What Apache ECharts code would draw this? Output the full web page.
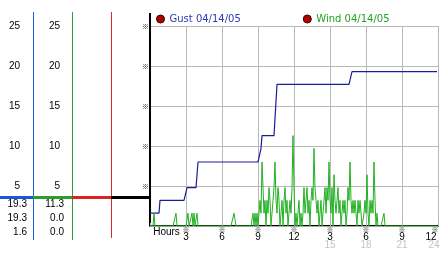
<!DOCTYPE html>
<html><head><meta charset="utf-8">
<script src="https://cdn.jsdelivr.net/npm/echarts@6/dist/echarts.min.js"></script>
<style>html,body{margin:0;padding:0;background:#fff}#c{width:442px;height:253px}</style>
</head><body><div id="c"></div>
<script>
// ---- data ----
const seriesNames = ['Gust 04/14/05', 'Wind 04/14/05'];
const sampleMinutes = 5; // one sample every 5 minutes, 00:00 .. 23:55
const gustKmh = [
  1.6,1.6,1.6,1.6,1.6,1.6,1.6,1.6,1.6,1.6,3.2,3.2,3.2,3.2,3.2,3.2,3.2,3.2,3.2,3.2,3.2,3.2,3.2,3.2,
  3.2,3.2,3.2,3.2,3.2,3.2,3.2,3.2,3.2,3.2,3.2,3.2,3.2,4.8,4.8,4.8,4.8,4.8,4.8,4.8,4.8,4.8,4.8,4.8,
  8.0,8.0,8.0,8.0,8.0,8.0,8.0,8.0,8.0,8.0,8.0,8.0,8.0,8.0,8.0,8.0,8.0,8.0,8.0,8.0,8.0,8.0,8.0,8.0,
  8.0,8.0,8.0,8.0,8.0,8.0,8.0,8.0,8.0,8.0,8.0,8.0,8.0,8.0,8.0,8.0,8.0,8.0,8.0,8.0,8.0,8.0,8.0,8.0,
  8.0,8.0,8.0,8.0,8.0,8.0,8.0,8.0,8.0,8.0,8.0,8.0,8.0,8.0,8.0,9.7,11.3,11.3,11.3,11.3,11.3,11.3,11.3,11.3,
  11.3,11.3,11.3,11.3,11.3,11.3,11.3,17.7,17.7,17.7,17.7,17.7,17.7,17.7,17.7,17.7,17.7,17.7,17.7,17.7,17.7,17.7,17.7,17.7,
  17.7,17.7,17.7,17.7,17.7,17.7,17.7,17.7,17.7,17.7,17.7,17.7,17.7,17.7,17.7,17.7,17.7,17.7,17.7,17.7,17.7,17.7,17.7,17.7,
  17.7,17.7,17.7,17.7,17.7,17.7,17.7,17.7,17.7,17.7,17.7,17.7,17.7,17.7,17.7,17.7,17.7,17.7,17.7,17.7,17.7,17.7,17.7,17.7,
  17.7,17.7,17.7,17.7,17.7,17.7,17.7,17.7,17.7,17.7,19.3,19.3,19.3,19.3,19.3,19.3,19.3,19.3,19.3,19.3,19.3,19.3,19.3,19.3,
  19.3,19.3,19.3,19.3,19.3,19.3,19.3,19.3,19.3,19.3,19.3,19.3,19.3,19.3,19.3,19.3,19.3,19.3,19.3,19.3,19.3,19.3,19.3,19.3,
  19.3,19.3,19.3,19.3,19.3,19.3,19.3,19.3,19.3,19.3,19.3,19.3,19.3,19.3,19.3,19.3,19.3,19.3,19.3,19.3,19.3,19.3,19.3,19.3,
  19.3,19.3,19.3,19.3,19.3,19.3,19.3,19.3,19.3,19.3,19.3,19.3,19.3,19.3,19.3,19.3,19.3,19.3,19.3,19.3,19.3,19.3,19.3,19.3
];
const windKmh = [
  0,0,0,0,1.6,0,0,0,0,0,0,0,0,0,0,0,0,0,0,0,0,0,0,0,
  0,0,1.6,0,0,0,0,0,0,0,0,0,0,0,1.6,0,0,0,1.6,0,1.6,0,0,1.6,
  0,0,0,0,0,0,0,0,0,0,0,0,0,0,0,0,0,0,0,0,0,0,0,0,
  0,0,0,0,0,0,0,0,0,0,0,0,1.6,1.6,0,0,0,0,0,0,0,0,0,0,
  0,0,0,0,0,0,0,1.6,0,1.6,0,1.6,0,1.6,3.2,1.6,8.0,4.8,1.6,3.2,0,3.2,1.6,4.8,
  3.2,0,1.6,3.2,4.8,8.0,3.2,1.6,4.8,3.2,0,1.6,3.2,0,3.2,4.8,1.6,3.2,0,1.6,3.2,1.6,4.8,11.3,
  4.8,0,1.6,0,1.6,3.2,0,1.6,0,1.6,4.8,1.6,3.2,4.8,1.6,3.2,0,3.2,4.8,3.2,9.7,4.8,3.2,1.6,
  3.2,0,1.6,3.2,0,0,3.2,4.8,1.6,4.8,3.2,8.0,3.2,1.6,4.8,0,6.4,3.2,1.6,3.2,4.8,1.6,3.2,0,
  0,3.2,1.6,3.2,0,1.6,4.8,3.2,8.0,3.2,1.6,3.2,1.6,3.2,1.6,0,3.2,1.6,3.2,1.6,0,0,1.6,3.2,
  1.6,6.4,1.6,0,3.2,1.6,3.2,1.6,8.0,3.2,0,1.6,0,0,0,0,0,0,1.6,0,0,0,0,0,
  0,0,0,0,0,0,0,0,0,0,0,0,0,0,0,0,0,0,0,0,0,0,0,0,
  0,0,0,0,0,0,0,0,0,0,0,0,0,0,0,0,0,0,0,0,0,0,0,0
];
const hourLabels   = ['Hours','3','6','9','12','3','6','9','12'];
const hourLabels24 = ['','','','','','15','18','21','24'];

// ---- build ----
const toPairs = arr => arr.map((v, i) => [i * sampleMinutes / 60, v]);
const stat = arr => [Math.max(...arr), arr[arr.length - 1], Math.min(...arr)].map(v => v.toFixed(1));
const gustStats = stat(gustKmh), windStats = stat(windKmh);

const LF = 'Liberation Sans';
const chart = echarts.init(document.getElementById('c'), null, {renderer: 'canvas'});

const numStyle = (pr) => ({fontFamily: LF, fontSize: 10, color: '#000', lineHeight: 8, padding: [0, pr, 0, 0]});
const glyphStyle = (pr) => ({fontFamily: 'Noto Sans CJK JP', fontSize: 7, color: '#111', lineHeight: 7, padding: [0, pr, 0, 0]});
const greyStyle = (pr) => ({fontFamily: LF, fontSize: 10, color: '#c4c4c4', lineHeight: 9, padding: [0, pr, 0, 0]});

const statTexts = [];
[gustStats, windStats].forEach((s, c) => {
  s.forEach((t, r) => {
    statTexts.push({type: 'text', x: c === 0 ? 27 : 64, y: 204 + r * 14.3,
      style: {text: t, fill: '#000', font: '10px "Liberation Sans"', textAlign: 'right', textVerticalAlign: 'middle'}});
  });
});

const vline = (x, y2, color) => ({type: 'rect', z: 100, shape: {x: x, y: 12, width: 1, height: y2 - 12}, style: {fill: color}});
const hline = (x1, x2, color) => ({type: 'rect', z: 100, shape: {x: x1, y: 196, width: x2 - x1, height: 3}, style: {fill: color}});

chart.setOption({
  animation: false,
  backgroundColor: '#fff',
  grid: {left: 150, right: 4, top: 26, bottom: 27, outerBoundsMode: 'none', containLabel: false},
  legend: {
    data: [
      {name: seriesNames[0], textStyle: {color: '#2a3cb8'}},
      {name: seriesNames[1], textStyle: {color: '#24a024'}}
    ],
    icon: 'circle', itemWidth: 8, itemHeight: 8, itemGap: 62,
    left: 156, top: 14, padding: 0,
    itemStyle: {color: '#b00000', borderColor: '#3a0000', borderWidth: 1},
    textStyle: {fontFamily: 'DejaVu Sans', fontSize: 10}
  },
  xAxis: [{
    type: 'value', min: 0, max: 24, interval: 3, position: 'bottom',
    axisLine: {lineStyle: {color: '#000', width: 2}},
    axisTick: {show: false},
    splitLine: {show: true, lineStyle: {color: '#b8b8b8', width: 1}},
    axisLabel: {
      margin: 0,
      formatter: v => {
        const k = Math.round(v / 3);
        if (k === 0) return '{h|' + hourLabels[0] + '}';
        const s = k === 8 ? 'r' : '';
        return '{m' + s + '|※}\n{n' + s + '|' + hourLabels[k] + '}\n{g' + s + '|' + (hourLabels24[k] || ' ') + '}';
      },
      rich: {
        h: {fontFamily: LF, fontSize: 10, color: '#000', lineHeight: 12, padding: [0, 0, 0, 33]},
        m: glyphStyle(0), n: numStyle(0), g: greyStyle(0),
        mr: glyphStyle(6), nr: numStyle(14), gr: greyStyle(8)
      }
    }
  }, {
    type: 'value', min: 0, max: 24, interval: 3, position: 'top',
    axisLine: {lineStyle: {color: '#aaa', width: 1}},
    axisTick: {show: true, length: 3, lineStyle: {color: '#aaa'}},
    axisLabel: {show: false}, splitLine: {show: false}
  }],
  yAxis: [{
    type: 'value', min: 0, max: 25, interval: 5, position: 'left',
    axisLine: {show: true, lineStyle: {color: '#000', width: 2}},
    axisTick: {show: false},
    splitLine: {show: true, lineStyle: {color: '#b8b8b8', width: 1}},
    axisLabel: {margin: 1, fontSize: 7, color: '#111', fontFamily: 'Noto Sans CJK JP', formatter: v => v === 0 ? '' : '※'}
  }, {
    type: 'value', min: 0, max: 25, interval: 5, position: 'left', offset: 117,
    axisLine: {show: false}, axisTick: {show: false}, splitLine: {show: false},
    axisLabel: {margin: 13, fontSize: 10, color: '#000', fontFamily: LF, formatter: v => v === 0 ? '' : String(v)}
  }, {
    type: 'value', min: 0, max: 25, interval: 5, position: 'left', offset: 78,
    axisLine: {show: false}, axisTick: {show: false}, splitLine: {show: false},
    axisLabel: {margin: 12, fontSize: 10, color: '#000', fontFamily: LF, formatter: v => v === 0 ? '' : String(v)}
  }],
  series: [{
    name: seriesNames[0], type: 'line', data: toPairs(gustKmh), xAxisIndex: 0, yAxisIndex: 0,
    showSymbol: false, lineStyle: {color: '#1c1c9a', width: 1.2}, itemStyle: {color: '#b00000'}, z: 3
  }, {
    name: seriesNames[1], type: 'line', data: toPairs(windKmh), xAxisIndex: 0, yAxisIndex: 0,
    showSymbol: false, lineStyle: {color: '#22b022', width: 1}, itemStyle: {color: '#b00000'}, z: 4
  }],
  graphic: [
    {type: 'rect', z: 100, shape: {x: 149, y: 13, width: 2, height: 14}, style: {fill: '#000'}},
    vline(33, 240, '#2060e0'),
    vline(72, 240, '#2aa02a'),
    vline(111, 238, '#e02828'),
    hline(0, 33, '#1f55dd'),
    hline(33, 72, '#2aa02a'),
    hline(72, 111, '#dd2222'),
    hline(111, 149, '#000')
  ].concat(statTexts)
});
</script></body></html>
